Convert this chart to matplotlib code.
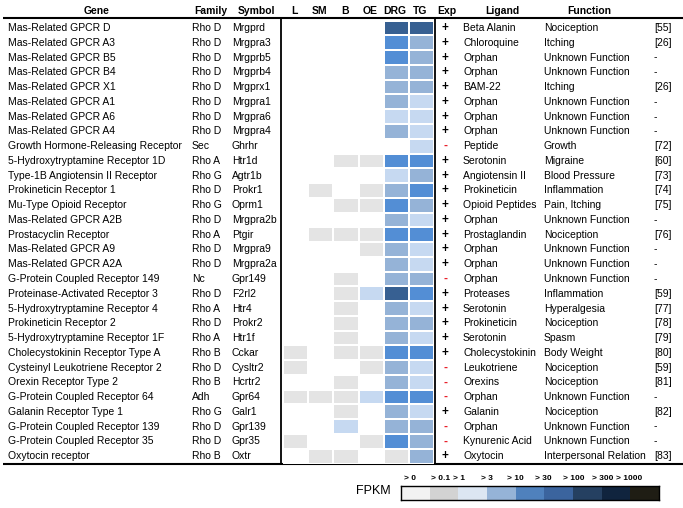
import numpy as np
import matplotlib
matplotlib.use("Agg")
import matplotlib.pyplot as plt
from matplotlib.colors import ListedColormap

plt.rcParams['font.family'] = ['Liberation Sans', 'DejaVu Sans']

genes = ["Mas-Related GPCR D", "Mas-Related GPCR A3", "Mas-Related GPCR B5",
         "Mas-Related GPCR B4", "Mas-Related GPCR X1", "Mas-Related GPCR A1",
         "Mas-Related GPCR A6", "Mas-Related GPCR A4", "Growth Hormone-Releasing Receptor",
         "5-Hydroxytryptamine Receptor 1D", "Type-1B Angiotensin II Receptor",
         "Prokineticin Receptor 1", "Mu-Type Opioid Receptor", "Mas-Related GPCR A2B",
         "Prostacyclin Receptor", "Mas-Related GPCR A9", "Mas-Related GPCR A2A",
         "G-Protein Coupled Receptor 149", "Proteinase-Activated Receptor 3",
         "5-Hydroxytryptamine Receptor 4", "Prokineticin Receptor 2",
         "5-Hydroxytryptamine Receptor 1F", "Cholecystokinin Receptor Type A",
         "Cysteinyl Leukotriene Receptor 2", "Orexin Receptor Type 2",
         "G-Protein Coupled Receptor 64", "Galanin Receptor Type 1",
         "G-Protein Coupled Receptor 139", "G-Protein Coupled Receptor 35",
         "Oxytocin receptor"]
families = ["Rho D"] * 8 + ["Sec", "Rho A", "Rho G", "Rho D", "Rho G", "Rho D", "Rho A",
            "Rho D", "Rho D", "Nc", "Rho D", "Rho A", "Rho D", "Rho A", "Rho B", "Rho D",
            "Rho B", "Adh", "Rho G", "Rho D", "Rho D", "Rho B"]
symbols = ["Mrgprd", "Mrgpra3", "Mrgprb5", "Mrgprb4", "Mrgprx1", "Mrgpra1", "Mrgpra6",
           "Mrgpra4", "Ghrhr", "Htr1d", "Agtr1b", "Prokr1", "Oprm1", "Mrgpra2b", "Ptgir",
           "Mrgpra9", "Mrgpra2a", "Gpr149", "F2rl2", "Htr4", "Prokr2", "Htr1f", "Cckar",
           "Cysltr2", "Hcrtr2", "Gpr64", "Galr1", "Gpr139", "Gpr35", "Oxtr"]
exp = ["+"] * 8 + ["-"] + ["+"] * 8 + ["-"] + ["+"] * 5 + ["-", "-", "-", "+", "-", "-", "+"]
ligands = ["Beta Alanin", "Chloroquine", "Orphan", "Orphan", "BAM-22", "Orphan", "Orphan",
           "Orphan", "Peptide", "Serotonin", "Angiotensin II", "Prokineticin",
           "Opioid Peptides", "Orphan", "Prostaglandin", "Orphan", "Orphan", "Orphan",
           "Proteases", "Serotonin", "Prokineticin", "Serotonin", "Cholecystokinin",
           "Leukotriene", "Orexins", "Orphan", "Galanin", "Orphan", "Kynurenic Acid",
           "Oxytocin"]
uf = "Unknown Function"
functions = ["Nociception", "Itching", uf, uf, "Itching", uf, uf, uf, "Growth", "Migraine",
             "Blood Pressure", "Inflammation", "Pain, Itching", uf, "Nociception", uf, uf,
             uf, "Inflammation", "Hyperalgesia", "Nociception", "Spasm", "Body Weight",
             "Nociception", "Nociception", uf, "Nociception", uf, uf,
             "Interpersonal Relation"]
refs = ["[55]", "[26]", "-", "-", "[26]", "-", "-", "-", "[72]", "[60]", "[73]", "[74]",
        "[75]", "-", "[76]", "-", "-", "-", "[59]", "[77]", "[78]", "[79]", "[80]", "[59]",
        "[81]", "-", "[82]", "-", "-", "[83]"]

tissues = ["L", "SM", "B", "OE", "DRG", "TG"]
# expression level class per tissue (0 = none, 1 = grey, 2..5 = blue shades)
lvl_L = [0]*22 + [1, 1, 0, 1, 0, 0, 1, 0]
lvl_SM = [0]*11 + [1, 0, 0, 1] + [0]*10 + [1, 0, 0, 0, 1]
lvl_B = [0]*9 + [1, 0, 0, 1, 0, 1, 0, 0, 1, 1, 1, 1, 1, 1, 0, 1, 1, 1, 2, 0, 1]
lvl_OE = [0]*9 + [1, 0, 1, 1, 0, 1, 1, 0, 0, 2, 0, 0, 0, 1, 1, 0, 2, 0, 0, 1, 0]
lvl_DRG = [5, 4, 4, 3, 3, 3, 2, 3, 0, 4, 2, 3, 4, 3, 4, 3, 3, 3, 5, 3,
           3, 3, 4, 3, 3, 4, 3, 3, 4, 1]
lvl_TG = [5, 3, 3, 3, 3, 2, 2, 2, 2, 4, 3, 4, 3, 2, 4, 2, 2, 3, 4, 2,
          3, 2, 4, 2, 2, 4, 2, 3, 3, 3]

legend_labels = ["> 0", "> 0.1", "> 1", "> 3", "> 10", "> 30", "> 100", "> 300", "> 1000"]
legend_colors = ["#f2f2f2", "#d3d3d3", "#dce6f2", "#95b3d7", "#4f81bd", "#3b649e",
                 "#254061", "#10243e", "#1f1d14"]
cell_colors = ["#ffffff", "#e4e4e4", "#c6d9f1", "#95b3d7", "#538ed5", "#376092"]

W, H = 683, 508
fig = plt.figure(figsize=(W / 100, H / 100), dpi=100)

# overlay axes in pixel coordinates
ax = fig.add_axes([0, 0, 1, 1])
ax.set_xlim(0, W)
ax.set_ylim(H, 0)
ax.axis("off")

top, pitch = 20.7, 14.76
n = len(genes)
bottom = top + n * pitch
hx0, hx1 = 283, 434

# heatmap
hax = fig.add_axes([hx0 / W, 1 - bottom / H, (hx1 - hx0) / W, (bottom - top) / H])
grid = np.array([lvl_L, lvl_SM, lvl_B, lvl_OE, lvl_DRG, lvl_TG]).T
hax.pcolormesh(grid, cmap=ListedColormap(cell_colors), vmin=-0.5, vmax=5.5,
               edgecolors="white", linewidth=1.2)
hax.set_xlim(0, 6)
hax.set_ylim(n, 0)
hax.axis("off")

fs = 7.5
ax.text(97, 11.5, "Gene", ha="center", va="center", fontsize=fs, fontweight="bold")
ax.text(211, 11.5, "Family", ha="center", va="center", fontsize=fs, fontweight="bold")
ax.text(256, 11.5, "Symbol", ha="center", va="center", fontsize=fs, fontweight="bold")
colw = (hx1 - hx0) / 6
for j, t in enumerate(tissues):
    ax.text(hx0 + (j + 0.5) * colw - 1, 11.5, t, ha="center", va="center",
            fontsize=fs, fontweight="bold")
ax.text(447, 11.5, "Exp", ha="center", va="center", fontsize=fs, fontweight="bold")
ax.text(502, 11.5, "Ligand", ha="center", va="center", fontsize=fs, fontweight="bold")
ax.text(589, 11.5, "Function", ha="center", va="center", fontsize=fs, fontweight="bold")

for i in range(n):
    y = top + (i + 0.5) * pitch
    ax.text(8, y, genes[i], ha="left", va="center", fontsize=fs)
    ax.text(192, y, families[i], ha="left", va="center", fontsize=fs)
    ax.text(232, y, symbols[i], ha="left", va="center", fontsize=fs)
    if exp[i] == "+":
        ax.text(445, y, "+", ha="center", va="center", fontsize=fs + 1, fontweight="bold")
    else:
        ax.text(445, y, "-", ha="center", va="center", fontsize=fs + 1,
                fontweight="bold", color="#e8202a")
    ax.text(463, y, ligands[i], ha="left", va="center", fontsize=fs)
    ax.text(544, y, functions[i], ha="left", va="center", fontsize=fs)
    ax.text(654, y, refs[i], ha="left", va="center", fontsize=fs)

ax.plot([3, W], [18.2, 18.2], color="black", lw=1.5, solid_capstyle="butt")
ax.plot([3, W], [bottom + 0.5, bottom + 0.5], color="black", lw=1.5, solid_capstyle="butt")
ax.plot([281.2, 281.2], [18.2, bottom + 0.5], color="black", lw=1.3)
ax.plot([435.2, 435.2], [18.2, bottom + 0.5], color="black", lw=1.3)

# legend bar
lx0, lx1, ly0, ly1 = 401, 659, 486, 500
lax = fig.add_axes([lx0 / W, 1 - ly1 / H, (lx1 - lx0) / W, (ly1 - ly0) / H])
lax.imshow(np.arange(len(legend_colors))[None, :], cmap=ListedColormap(legend_colors),
           aspect="auto", interpolation="nearest")
lax.set_xticks([])
lax.set_yticks([])
for s in lax.spines.values():
    s.set_linewidth(1.0)
segw = (lx1 - lx0) / len(legend_labels)
shift = [9, 11, 1, 0, 0, -1, 1, 1, -1]
for k, lab in enumerate(legend_labels):
    ax.text(lx0 + k * segw + shift[k], 478, lab, ha="center", va="center",
            fontsize=6, fontweight="bold")
ax.text(373, 491, "FPKM", ha="center", va="center", fontsize=9)

fig.savefig("out.png", dpi=100)
